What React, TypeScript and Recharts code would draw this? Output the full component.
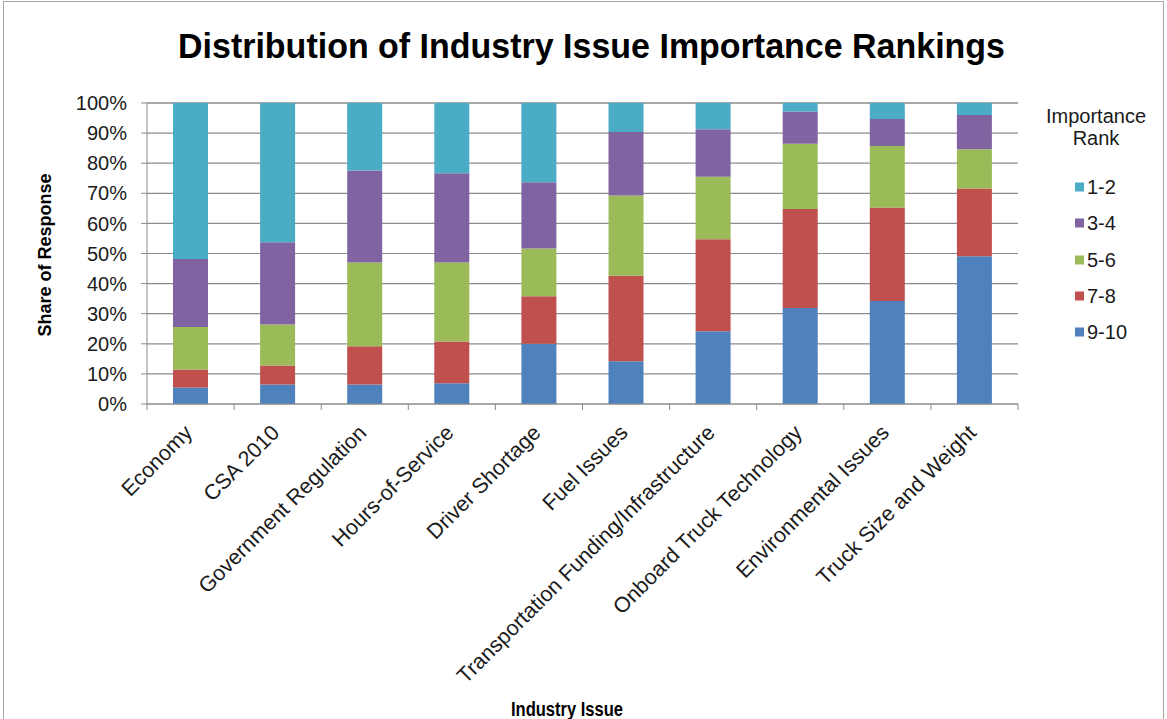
import React from "react";
import { BarChart, Bar, XAxis, YAxis, CartesianGrid } from "recharts";

// ── Data ───────────────────────────────────────────────────────────────────
const CATEGORIES = [
  "Economy",
  "CSA 2010",
  "Government Regulation",
  "Hours-of-Service",
  "Driver Shortage",
  "Fuel Issues",
  "Transportation Funding/Infrastructure",
  "Onboard Truck Technology",
  "Environmental Issues",
  "Truck Size and Weight",
];

const RANK_9_10 = [5.5, 6.5, 6.5, 6.9, 20.0, 14.2, 24.2, 31.9, 34.2, 49.1];
const RANK_7_8 = [6.0, 6.3, 12.7, 13.9, 15.8, 28.4, 30.5, 32.9, 31.1, 22.5];
const RANK_5_6 = [14.1, 13.6, 27.8, 26.2, 15.9, 26.7, 20.8, 21.7, 20.4, 13.0];
const RANK_3_4 = [22.6, 27.3, 30.6, 29.7, 22.0, 21.1, 15.8, 10.7, 9.0, 11.4];
const RANK_1_2 = [51.8, 46.3, 22.4, 23.3, 26.3, 9.6, 8.7, 2.8, 5.3, 4.0];

const Y_TICKS = [0, 10, 20, 30, 40, 50, 60, 70, 80, 90, 100];

// stacking order bottom → top
const SERIES = [
  { key: "9-10", values: RANK_9_10, color: "#4F81BD" },
  { key: "7-8", values: RANK_7_8, color: "#C0504D" },
  { key: "5-6", values: RANK_5_6, color: "#9BBB59" },
  { key: "3-4", values: RANK_3_4, color: "#8064A2" },
  { key: "1-2", values: RANK_1_2, color: "#4BACC6" },
];

const data = CATEGORIES.map((name, i) => {
  const row: Record<string, string | number> = { name };
  SERIES.forEach((s) => { row[s.key] = s.values[i]; });
  return row;
});

// ── Layout ─────────────────────────────────────────────────────────────────
const W = 1167;
const H = 719;
const PLOT_LEFT = 147;
const PLOT_RIGHT = 1018;
const PLOT_TOP = 103;
const PLOT_BOTTOM = 404;
const BAND = (PLOT_RIGHT - PLOT_LEFT) / CATEGORIES.length;
const GRID = "#8c8c8c";
const SANS = "Arial, 'Liberation Sans', sans-serif";

// Excel-style category tick: mark at band boundary + rotated label
const CategoryTick = (props: any) => {
  const { x, payload, index } = props;
  const y = PLOT_BOTTOM;
  const left = x - BAND / 2;
  const tx = x + 3;
  const ty = y + 30;
  return (
    <g>
      <line x1={left} y1={y} x2={left} y2={y + 6} stroke={GRID} />
      {index === CATEGORIES.length - 1 && (
        <line x1={left + BAND} y1={y} x2={left + BAND} y2={y + 6} stroke={GRID} />
      )}
      <text
        x={tx}
        y={ty}
        textAnchor="end"
        fontSize={21.5}
        fontFamily={SANS}
        fill="#1a1a1a"
        transform={`rotate(-45, ${tx}, ${ty})`}
      >
        {payload.value}
      </text>
    </g>
  );
};

export default function App() {
  return (
    <div style={{ position: "absolute", left: 0, top: 0, width: W, height: H, background: "#fff", overflow: "hidden" }}>
      {/* frame */}
      <div style={{ position: "absolute", left: 3, top: 1, width: 1159, height: 740, border: "1px solid #a6a6a6" }} />

      <BarChart
        width={W}
        height={H}
        data={data}
        margin={{ top: PLOT_TOP, right: W - PLOT_RIGHT, bottom: 15, left: PLOT_LEFT - 60 }}
        barSize={35}
      >
        <CartesianGrid vertical={false} stroke={GRID} strokeWidth={1.2} />
        <XAxis
          dataKey="name"
          height={300}
          interval={0}
          axisLine={{ stroke: GRID }}
          tickLine={false}
          tick={<CategoryTick />}
        />
        <YAxis
          width={60}
          domain={[0, 100]}
          ticks={Y_TICKS}
          interval={0}
          axisLine={{ stroke: GRID }}
          tickLine={{ stroke: GRID }}
          tickSize={6}
          tickMargin={14}
          tickFormatter={(v) => `${v}%`}
          tick={{ fontSize: 20, fontFamily: SANS, fill: "#1a1a1a" }}
        />
        {SERIES.map((s) => (
          <Bar key={s.key} dataKey={s.key} stackId="a" fill={s.color} isAnimationActive={false} />
        ))}
      </BarChart>

      {/* titles (condensed bold, fitted to the reference width) */}
      <svg width={W} height={H} style={{ position: "absolute", left: 0, top: 0, pointerEvents: "none" }}>
        <text x={178} y={58} fontFamily={SANS} fontWeight={700} fontSize={35} fill="#000"
          textLength={827} lengthAdjust="spacingAndGlyphs">
          Distribution of Industry Issue Importance Rankings
        </text>
        <text x={511} y={716} fontFamily={SANS} fontWeight={700} fontSize={20} fill="#000"
          textLength={112} lengthAdjust="spacingAndGlyphs">
          Industry Issue
        </text>
        <text x={45} y={255} fontFamily={SANS} fontWeight={700} fontSize={18} fill="#000"
          textAnchor="middle" dominantBaseline="central" transform="rotate(-90, 45, 255)">
          Share of Response
        </text>
      </svg>

      {/* legend */}
      <div style={{
        position: "absolute", left: 1040, top: 105, width: 112, textAlign: "center",
        fontFamily: SANS, fontSize: 20, color: "#1a1a1a", lineHeight: "22px",
      }}>
        Importance<br />Rank
      </div>
      {[...SERIES].reverse().map((s, i) => (
        <div key={s.key} style={{
          position: "absolute", left: 1075, top: 187 + i * 36.3, transform: "translateY(-50%)",
          display: "flex", alignItems: "center", fontFamily: SANS, fontSize: 20, color: "#1a1a1a",
        }}>
          <span style={{ width: 9, height: 9, background: s.color, display: "inline-block", marginRight: 3 }} />
          {s.key}
        </div>
      ))}
    </div>
  );
}
